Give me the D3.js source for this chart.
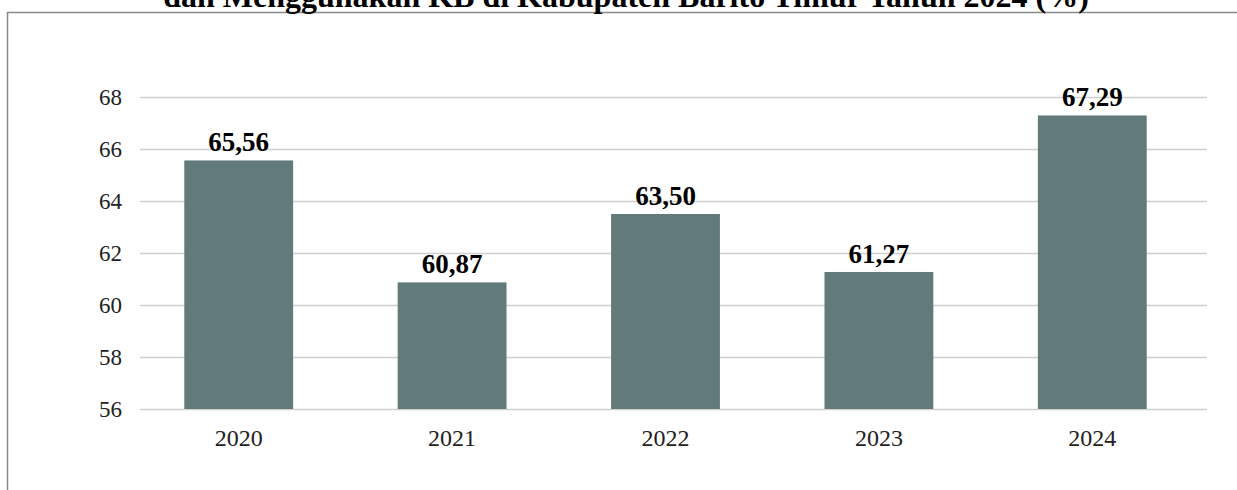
<!DOCTYPE html>
<html>
<head>
<meta charset="utf-8">
<script src="https://cdn.jsdelivr.net/npm/d3@7"></script>
<style>
  body { margin: 0; background: #fff; }
  svg { display: block; }
</style>
</head>
<body>
<script>
// data
var years = ["2020", "2021", "2022", "2023", "2024"];
var values = [65.56, 60.87, 63.50, 61.27, 67.29];
var yTicks = [56, 58, 60, 62, 64, 66, 68];
var title = "dan Menggunakan KB di Kabupaten Barito Timur Tahun 2024 (%)";

var bar_color = "#627a79";
var grid_color = "#cfcfcf";
var frame_color = "#8a8a8a";
var font = "'Liberation Serif', 'Times New Roman', serif";

var W = 1237, H = 490;
var margin = { top: 97, right: 30, bottom: 81, left: 140 },
	width = 1207 - margin.left,
	height = 409 - margin.top;

var root = d3.select("body").append("svg")
	.attr("width", W)
	.attr("height", H);

// frame (top + left edges visible)
root.append("path")
	.attr("d", "M7.5," + H + "V12.5H" + W)
	.attr("fill", "none")
	.attr("stroke", frame_color)
	.attr("stroke-width", 1.5);

// title (cut at the top of the page, as in the source)
root.append("text")
	.text(title)
	.attr("x", 626)
	.attr("y", 7)
	.attr("text-anchor", "middle")
	.style("font-family", font)
	.style("font-weight", "bold")
	.style("font-size", "32px")
	.style("fill", "#000");

var svg = root.append("g")
	.attr("transform", "translate(" + margin.left + "," + margin.top + ")");

var y = d3.scaleLinear().domain([56, 68]).range([height, 0]);
var x = d3.scaleBand().domain(years).range([-8, width - 8]).paddingInner(0.49).paddingOuter(0.245);

// gridlines
svg.selectAll("line.grid")
	.data(yTicks)
	.enter().append("line")
	.attr("class", "grid")
	.attr("x1", 0)
	.attr("x2", width)
	.attr("y1", d => Math.round(y(d)) + 0.5)
	.attr("y2", d => Math.round(y(d)) + 0.5)
	.attr("stroke", grid_color)
	.attr("stroke-width", 1.5);

// y axis
var yAxis = svg.append("g")
	.call(d3.axisLeft(y).tickValues(yTicks).tickSize(0).tickPadding(18).tickFormat(d3.format("d")));
yAxis.select(".domain").remove();
yAxis.selectAll("text")
	.style("font-family", font)
	.style("font-size", "23px")
	.style("fill", "#222");

// bars
svg.selectAll("rect.bar")
	.data(values)
	.enter().append("rect")
	.attr("class", "bar")
	.attr("x", (d, i) => x(years[i]))
	.attr("width", x.bandwidth())
	.attr("y", d => y(d))
	.attr("height", d => height - y(d))
	.attr("fill", bar_color);

// value labels
svg.selectAll("text.val")
	.data(values)
	.enter().append("text")
	.attr("class", "val")
	.text(d => d.toFixed(2).replace(".", ","))
	.attr("x", (d, i) => x(years[i]) + x.bandwidth() / 2)
	.attr("y", d => y(d) - 9)
	.attr("text-anchor", "middle")
	.style("font-family", font)
	.style("font-weight", "bold")
	.style("font-size", "27px")
	.style("fill", "#000");

// x axis
var xAxis = svg.append("g")
	.attr("transform", "translate(0," + height + ")")
	.call(d3.axisBottom(x).tickSize(0).tickPadding(20));
xAxis.select(".domain").remove();
xAxis.selectAll("text")
	.style("font-family", font)
	.style("font-size", "24px")
	.style("fill", "#222");
</script>
</body>
</html>
